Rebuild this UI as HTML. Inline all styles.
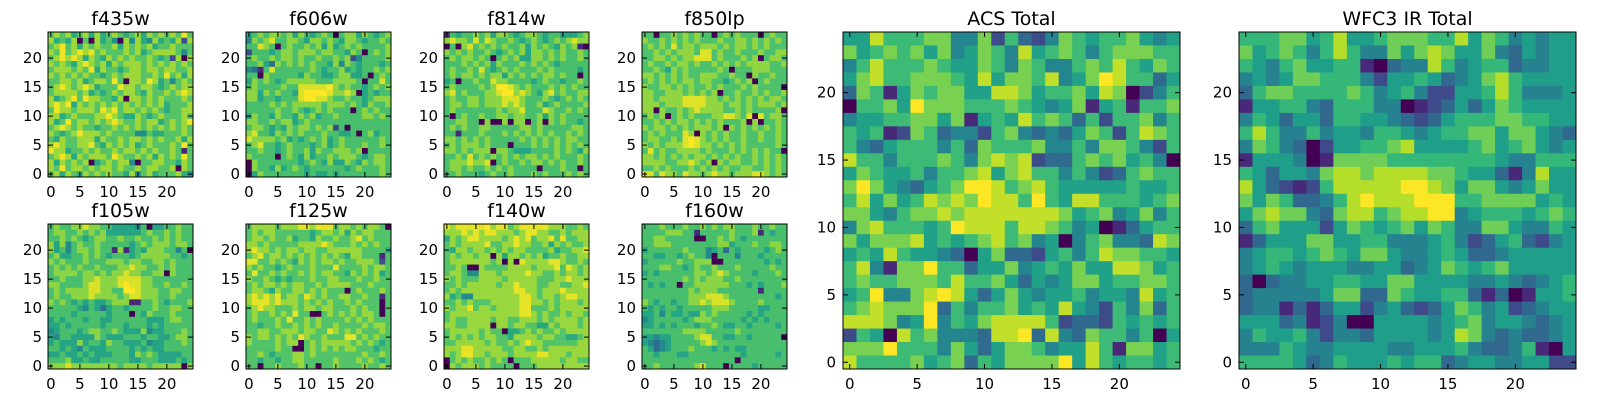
<!DOCTYPE html>
<html><head><meta charset="utf-8"><style>
body{margin:0;background:#fff;}
svg{display:block;font-family:"DejaVu Sans","Liberation Sans",sans-serif;}
</style></head><body>
<svg id="fig" width="1600" height="400" viewBox="0 0 1600 400" xmlns="http://www.w3.org/2000/svg"></svg>
<script>
// each grid: 25 strings, top row (y=24) first; digit = intensity level 0..9
const f435w=["6767567575676567576767686","7565706075640747547565727","6786757676675767675667666","7686787867666767567777646","6787875765767676676562707","7676578767576777676767676","6777676857665677677677667","7676767665676777667686757","6677675677686077687564676","6787678756668776776567677","6777767565676776576676787","7567868776657077676766676","7878576767676767676756667","6877677768786776767656677","7756766677876557656766676","7568677676787667677567678","6787676656676767676767676","7656787776766664465566676","6576677757667677676766757","7876677865767675676667686","8775667676676776767667616","6787576777687667675767686","7576767056767740667766576","7686776767767667677667076","6757657676766574675666754"];
const f606w=["5676776757656760677576567","4767866776577676577656676","6687606766767575676766667","2666567767776776657606767","6766767767667667672466667","6675376767676657476566656","4316866666676566756566767","6607666665766556775560676","5767656777776667777606686","6766667668888897676656767","7757676658999987787056566","7756656668998876676656777","6666767677777677767657667","6666676676567676660676766","5766576657675667666677676","7766767756766666666666666","6776565767767672606666666","7866576767666766556067566","8777767565676756766666676","6786656766656756766676676","6676656766757667776706666","7666606765756676777656776","0766666665676575576576776","0766575676566666656766676","0576666666565565666666676"];
const f814w=["1656676757765677656655567","7877686876676567656767877","0607867676766757676576710","7676766765676757767676676","6767767606767557767676676","6667676757666767676566666","6766768656767666767666656","6767767677576767677676606","5606676687766665676656676","6766667679987676667676766","7867666778997876578676677","6766776777888766676567676","6776776777878766756766667","6766666667677866687667676","6067667667767766757676666","6677660700707706707676656","6767667766666776766666776","6616667666767676767667676","7767676766666767676767766","6767776766606667676767676","7767677707765556666767657","6676867676767677676766676","6777877806766767767676676","6776766767676666066676606","6676665676676667676667676"];
const f850lp=["6606676767660676766606766","7667676767666766776767676","6767686776777676776767666","6676767776886766766676677","6677676778886766676706776","6766767767667676767777667","6676576766666760666777666","7767676766777667660766766","6767676776776656767067666","7667767676676766676766660","7766777676767066766767667","7767777888877676767676776","7776777888877767767677767","7707667678777766767666670","6767067676667788768086776","6676767767676766670706676","7677676767776707676767676","6767666870767676676676676","6776676898767676676676676","7676777898776767676666676","6867667777676667676767660","7767676767767676766767676","7777667787670767766767676","6676766676767676677667676","8868776877678776777887676"];
const f105w=["6766778776655554605566766","6776676767555555676676766","6676765677667667667676766","7574676676666656767776776","7564677676617156577766460","6755667676566656777776656","7676667666777677667767666","6767676676667787766767666","6777767767677877667707666","6676667787778888776666666","7766667887778988776676676","6767777887766998777667766","6766777877776788777667666","7676565655677711667656667","6666654653566566667667766","6666566666566606576667666","5656665665566666655567766","5565666665666566656566666","4566656776676555745566676","5466555576555666566556776","5655575665766555645566676","6656546555666656565566666","5565565655566657676555566","6667556556666655666555656","7778777777776777767777707"];
const f125w=["6777767778878886776767760","6767766666656776757677666","6776766756657667667867666","7767666667777876667676766","7877676776776677777766665","6786776767676767657766616","8866767657676776766777626","7676656766676668666676776","6866767667676776657676756","7667656566676677666766766","6767767677667677776667666","6776576677676766606766676","7878786776876766776676616","7888787776767676676766606","6787766676776776667676606","6766767686600676767677606","6766676866767666676767666","6656676676767667666676776","6677667776776687676766676","7677676768766766688676766","7666676770676777776767656","6666676600676767677666566","6676566677676666666676676","6656656677666667666767656","6606676667660667666676676"];
const f140w=["8788888978867888887776676","7778787887776788776676777","5767887777678786778686677","6767777866778776675767667","6577677676767766667566778","6767767707577676756676677","6777777767070877778876676","6676007666677776777868767","6776447776777787766767767","7676667777677777666778777","6676777776778777667766778","6767777777778877677787777","7564477777777887677678877","6676766677777887767677767","7677867767777886667677777","6777777777777887676676776","6766777767766777676777767","7766777707767766557677767","6777776766055676766767777","6767676776657777677665567","6677777676676787766666677","7778877777667766767777777","7678877677767777887776777","0676766767606667777767766","0767776766660666777777777"];
const f160w=["6667666766767677666766766","6666777661666667666716566","6677666660066767656666666","6677766666666775666766776","5666666766645636566665676","6655665676640666466656666","5666667667770066666665656","6667766567667666766666766","5656666667767876666566676","6666666767677766766666666","6565660667777776665656667","6666666676777666666616666","6666666677788876666666656","7656656677878887666676666","6565665666667776666655666","5564655655767666665656666","4566666567776666656565666","5565656665667655665666656","6666666777766666766666666","5545566667886655665666660","5434566666787666666666666","6534566676665656556666666","6656665566666666656666656","6666666666666666066666666","6676666667866606666566666"];
const acsTotal=["5586667744726324765667545","7567675745764856764677766","4686667655764764467686576","5786677765857768457986635","3761576775588756675870246","0667597776667654571561667","4556677571565867636266746","6561276344267434357626876","6435666463766674464776426","8664666764787823367675640","5765564667857866464236766","7975435679986786555556556","6857568787988696588666567","7754677878888888756745746","4786665698886887645013566","7577785656786745046744387","5658655430573325646877665","6841779663557456575588756","6766777686675354577566776","5694478985357545564554856","6787779364667565854264736","8887459465788886233265656","2650867444388938437664605","7779666475357764558617756","8666675673657777958656656"];
const wfc3Total=["6667756855677766857645455","7567646864475787557435455","6546755661034486456634455","4545776664255653457865555","3677666676456422556864445","1556643666440123535765555","4653553665543235666776655","6864464554665456677577543","4764302556678555567567545","1555401777766666666544666","6535547887888877655314855","8532126888889987577545755","7576334689888999667777565","5787743788678899456665676","3675552576567576447754465","1355577556644456423563245","4566567657754456533455555","4565455544553457656755555","3034455665577555544543456","3444445773376556631301556","3441313552453235764523455","5553412400555545674554345","4655642443555545874343345","4446544555544555643346105","6666534655565663455445522"];
const panelTitles=["f435w","f606w","f814w","f850lp","f105w","f125w","f140w","f160w","ACS Total","WFC3 IR Total"];
const tickValues=[0,5,10,15,20];
const viridis=["#440154","#482878","#3e4a89","#31688e","#26828e","#1f9e89","#35b779","#6ece58","#b5de2b","#fde725"];

const NS="http://www.w3.org/2000/svg";
const svg=document.getElementById("fig");
function mk(tag,attrs,parent){const e=document.createElementNS(NS,tag);for(const k in attrs)e.setAttribute(k,attrs[k]);(parent||svg).appendChild(e);return e;}
function hex2(h){return [1,3,5].map(i=>parseInt(h.substr(i,2),16));}
function cmap(t){t=Math.max(0,Math.min(1,t));const f=t*9,i=Math.min(8,Math.floor(f)),u=f-i;
  const a=hex2(viridis[i]),b=hex2(viridis[i+1]);
  return "rgb("+a.map((v,k)=>Math.round(v+(b[k]-v)*u)).join(",")+")";}

const layout=[
 {g:f435w,x:48,y:32,s:145,vmax:8.2},{g:f606w,x:246,y:32,s:145,vmax:8.5},{g:f814w,x:444,y:32,s:145,vmax:8.5},{g:f850lp,x:642,y:32,s:145,vmax:8.4},
 {g:f105w,x:48,y:224,s:145,vmax:8.5},{g:f125w,x:246,y:224,s:145,vmax:8.3},{g:f140w,x:444,y:224,s:145,vmax:8.3},{g:f160w,x:642,y:224,s:145,vmax:8.5},
 {g:acsTotal,x:843,y:32,s:337,vmax:8.8},{g:wfc3Total,x:1239,y:32,s:337,vmax:9}
];

layout.forEach((p,idx)=>{
  const grid=p.g,n=grid.length,m=grid[0].length;
  const title=panelTitles[idx];
  const slug=title.toLowerCase().replace(/\s+/g,'-');
  const g=mk("g",{});
  
  
  const cw=p.s/m, ch=p.s/n;
  const xs=v=>p.x+(v+0.5)*cw;
  const ys=v=>p.y+p.s-(v+0.5)*ch;
  for(let r=0;r<n;r++){
    const yv=n-1-r;
    for(let c=0;c<m;c++){
      const d=+grid[r][c];
      const rect=mk("rect",{x:(xs(c)-cw/2).toFixed(2),y:(ys(yv)-ch/2).toFixed(2),width:(cw+0.4).toFixed(2),height:(ch+0.4).toFixed(2),fill:cmap(d/p.vmax)},g);
      
      
    }
  }
  const frame=mk("rect",{x:p.x,y:p.y,width:p.s,height:p.s,fill:"none",stroke:"#000","stroke-width":1},g);
  
  
  const TL=5;
  const ticks=mk("g",{stroke:"#000","stroke-width":1},g);
  
  
  const big=p.s>200;
  tickValues.forEach(v=>{
    const x=xs(v), y=ys(v);
    mk("line",{x1:x,y1:p.y+p.s,x2:x,y2:p.y+p.s-TL},ticks);
    mk("line",{x1:x,y1:p.y,x2:x,y2:p.y+TL},ticks);
    mk("line",{x1:p.x,y1:y,x2:p.x+TL,y2:y},ticks);
    mk("line",{x1:p.x+p.s,y1:y,x2:p.x+p.s-TL,y2:y},ticks);
    const xl=mk("text",{x:x,y:p.y+p.s+20,"text-anchor":"middle","font-size":15,fill:"#000"},g);
    xl.textContent=v;
    
    
    const yl=mk("text",{x:p.x-(big?7:6),y:y+5,"text-anchor":"end","font-size":15,fill:"#000"},g);
    yl.textContent=v;
    
    
  });
  const t=mk("text",{x:p.x+p.s/2,y:p.y-7,"text-anchor":"middle","font-size":19,fill:"#000"},g);
  t.textContent=title;
  
  
});
</script>
</body></html>
